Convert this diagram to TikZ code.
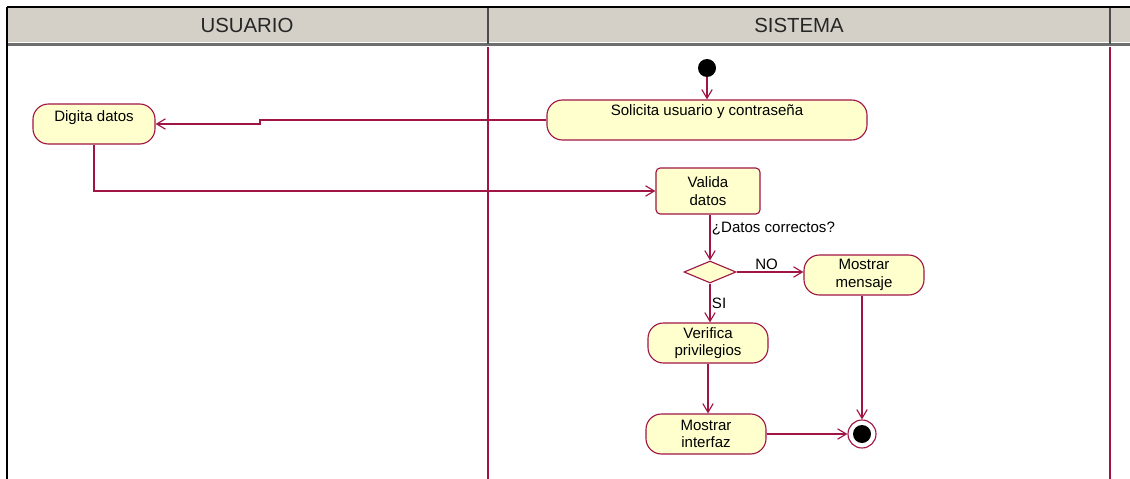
\documentclass[tikz,border=0pt]{standalone}
\usepackage{fontspec}
\setmainfont{Liberation Sans}
\usetikzlibrary{arrows.meta,positioning,shapes.geometric}
\definecolor{umlred}{RGB}{160,20,70}
\definecolor{umlfill}{RGB}{255,255,206}
\definecolor{lanegray}{RGB}{212,208,200}
\definecolor{lanedark}{RGB}{110,110,110}

\begin{document}
\begin{tikzpicture}[x=0.025cm,y=-0.025cm,
  action/.style={draw=umlred,fill=umlfill,line width=0.8pt,rounded corners=11pt,
    minimum height=1cm,font=\fontsize{10.7}{12.5}\selectfont,align=center,inner sep=1pt},
  plainact/.style={action,rounded corners=3pt},
  decision/.style={diamond,draw=umlred,fill=umlfill,line width=0.8pt,
    minimum width=1.3cm,minimum height=0.55cm,inner sep=0pt},
  flow/.style={-{Straight Barb[length=2.2mm,width=2.6mm]},line width=0.8pt,draw=umlred},
  lbl/.style={font=\fontsize{10.7}{12.5}\selectfont,text=black,inner sep=1pt},
  lanehead/.style={font=\fontsize{14.5}{16}\selectfont,text=black!85}
]
  \useasboundingbox (0,0) rectangle (1130,479);
  % Swimlanes
  \fill[lanegray] (7,7) rectangle (1130,42);
  \draw[lanedark,line width=2.2pt] (7,44.5) -- (1130,44.5);
  \draw[black!70,line width=1pt] (488,7) -- (488,44);
  \draw[black!70,line width=1pt] (1110,7) -- (1110,44);
  \draw[black,line width=1.4pt] (7,7) -- (1130,7);
  \draw[black,line width=1.4pt] (7,7) -- (7,479);
  \draw[umlred,line width=0.8pt] (488,47) -- (488,479);
  \draw[umlred,line width=0.8pt] (1110,47) -- (1110,479);
  \node[lanehead] (usuario) at (247,25) {USUARIO};
  \node[lanehead] (sistema) at (799,25) {SISTEMA};

  % Activities
  \fill[black] (707,68) circle (9);
  \coordinate (inicio) at (707,77);
  \node[action,minimum width=8cm,text depth=14pt] (solicita) at (707,120) {Solicita usuario y contraseña};
  \node[action,minimum width=3.05cm,text depth=12pt] (digita) at (94,124) {Digita datos};
  \node[plainact,minimum width=2.6cm,minimum height=1.15cm] (valida) at (708,191) {Valida\\datos};
  \node[decision] (decide) at (710,272) {};
  \node[action,minimum width=3cm] (mensaje) at (864,275) {Mostrar\\mensaje};
  \node[action,minimum width=3cm] (verifica) at (708,343) {Verifica\\privilegios};
  \node[action,minimum width=3cm] (interfaz) at (706,434) {Mostrar\\interfaz};
  \node[circle,draw=umlred,fill=white,line width=0.8pt,minimum size=0.7cm] (fin) at (862,434) {};
  \fill[black] (fin) circle (9);

  % Flows
  \draw[flow] (inicio) -- (solicita.north);
  \draw[flow] (solicita.west) -- (260,120) |- (digita.east);
  \draw[flow] (digita.south) |- (valida.west);
  \draw[flow] (valida.south -| decide.north) -- node[lbl,right,pos=0.3] {¿Datos correctos?} (decide.north);
  \draw[flow] (decide.east) -- node[lbl,above,pos=0.45] {NO} (decide.east -| mensaje.west);
  \draw[flow] (decide.south) -- node[lbl,right] {SI} (verifica.north -| decide.south);
  \draw[flow] (verifica.south) -- (interfaz.north -| verifica.south);
  \draw[flow] (interfaz.east) -- (fin.west);
  \draw[flow] (mensaje.south -| fin.north) -- (fin.north);
\end{tikzpicture}
\end{document}
